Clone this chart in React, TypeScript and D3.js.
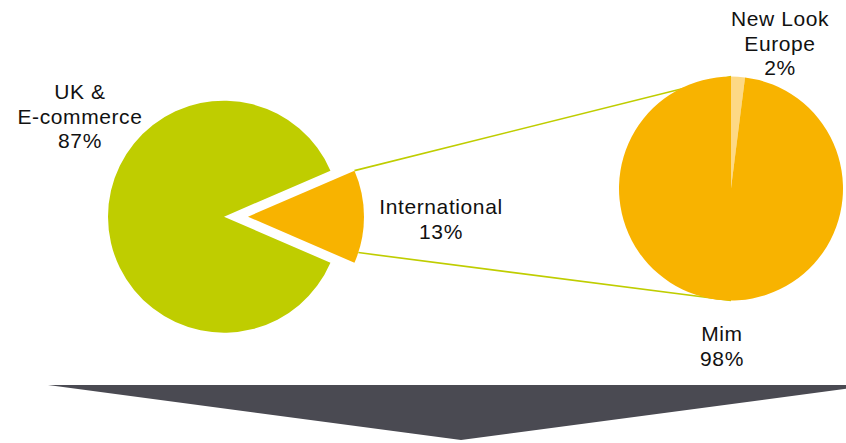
import React from "react";
import * as d3 from "d3";

const mainCategories = ["UK & E-commerce", "International"];
const mainValues = [87, 13];
const mainLabels = [["UK &", "E-commerce", "87%"], ["International", "13%"]];

const subCategories = ["New Look Europe", "Mim"];
const subValues = [2, 98];
const subLabels = [["New Look", "Europe", "2%"], ["Mim", "98%"]];

const W = 846;
const H = 443;

const GREEN = "#BFCD00";
const ORANGE = "#F8B300";
const LIGHT = "#FDD985";
const ARROW = "#4A4A52";

export default function App() {
  const mainC = { x: 224, y: 216.7 };
  const mainR = 116;
  const explode = 24;
  const subC = { x: 731, y: 188.5 };
  const subR = 112;

  const intShare = mainValues[1] / d3.sum(mainValues);
  const halfInt = Math.PI * intShare;
  const start = Math.PI / 2 + halfInt;

  const mainPie = d3
    .pie<number>()
    .sort(null)
    .value((d) => d)
    .startAngle(start)
    .endAngle(start + 2 * Math.PI);
  const mainArcs = mainPie(mainValues);

  const subPie = d3
    .pie<number>()
    .sort(null)
    .value((d) => d)
    .startAngle(0)
    .endAngle(2 * Math.PI);
  const subArcs = subPie(subValues);

  const mainArc = d3.arc<d3.PieArcDatum<number>>().innerRadius(0).outerRadius(mainR);
  const subArc = d3.arc<d3.PieArcDatum<number>>().innerRadius(0).outerRadius(subR);

  const intArc = mainArcs[1];
  const mid = (intArc.startAngle + intArc.endAngle) / 2;
  const off = { x: Math.sin(mid) * explode, y: -Math.cos(mid) * explode };
  const intC = { x: mainC.x + off.x, y: mainC.y + off.y };

  const pt = (c: { x: number; y: number }, r: number, a: number) => ({
    x: c.x + r * Math.sin(a),
    y: c.y - r * Math.cos(a),
  });

  const topStart = pt(intC, mainR, intArc.startAngle);
  const botStart = pt(intC, mainR, mid + halfInt * 0.77);
  const topEnd = pt(subC, subR, 0);
  const botEnd = pt(subC, subR, Math.PI);

  const colorsMain = [GREEN, ORANGE];
  const colorsSub = [LIGHT, ORANGE];

  const font = "'Liberation Sans', Arial, Helvetica, sans-serif";
  const fs = 21;
  const lh = 24.5;

  const labelBlock = (lines: string[], x: number, y: number, key: string) => (
    <text
      key={key}
      x={x}
      y={y}
      textAnchor="middle"
      fontFamily={font}
      fontSize={fs}
      letterSpacing={0.6}
      fill="#111"
    >
      {lines.map((l, i) => (
        <tspan key={i} x={x} dy={i === 0 ? 0 : lh}>
          {l}
        </tspan>
      ))}
    </text>
  );

  const arrowTop = 385;
  const arrowTip = { x: 461, y: 440 };
  const arrowLeft = 48;
  const arrowRight = arrowTip.x + (arrowTip.x - arrowLeft);
  const arrowPath = d3.path();
  arrowPath.moveTo(arrowLeft, arrowTop);
  arrowPath.lineTo(arrowRight, arrowTop);
  arrowPath.lineTo(arrowTip.x, arrowTip.y);
  arrowPath.closePath();

  return (
    <svg
      width={W}
      height={H}
      viewBox={`0 0 ${W} ${H}`}
      style={{ position: "absolute", left: 0, top: 0, display: "block", background: "#fff" }}
    >
      <rect width={W} height={H} fill="#fff" />
      <line x1={topStart.x} y1={topStart.y} x2={topEnd.x} y2={topEnd.y} stroke={GREEN} strokeWidth={1.6} />
      <line x1={botStart.x} y1={botStart.y} x2={botEnd.x} y2={botEnd.y} stroke={GREEN} strokeWidth={1.6} />

      <g>
        {mainArcs.map((a, i) => {
          const c = i === 1 ? intC : mainC;
          return (
            <path
              key={mainCategories[i]}
              d={mainArc(a) || ""}
              transform={`translate(${c.x},${c.y})`}
              fill={colorsMain[i]}
            />
          );
        })}
      </g>

      <g transform={`translate(${subC.x},${subC.y})`}>
        {subArcs.map((a, i) => (
          <path key={subCategories[i]} d={subArc(a) || ""} fill={colorsSub[i]} />
        ))}
      </g>

      {labelBlock(mainLabels[0], 80, 99, "l0")}
      {labelBlock(mainLabels[1], 441, 214, "l1")}
      {labelBlock(subLabels[0], 780, 26, "s0")}
      {labelBlock(subLabels[1], 722, 341, "s1")}

      <path d={arrowPath.toString()} fill={ARROW} />
    </svg>
  );
}
